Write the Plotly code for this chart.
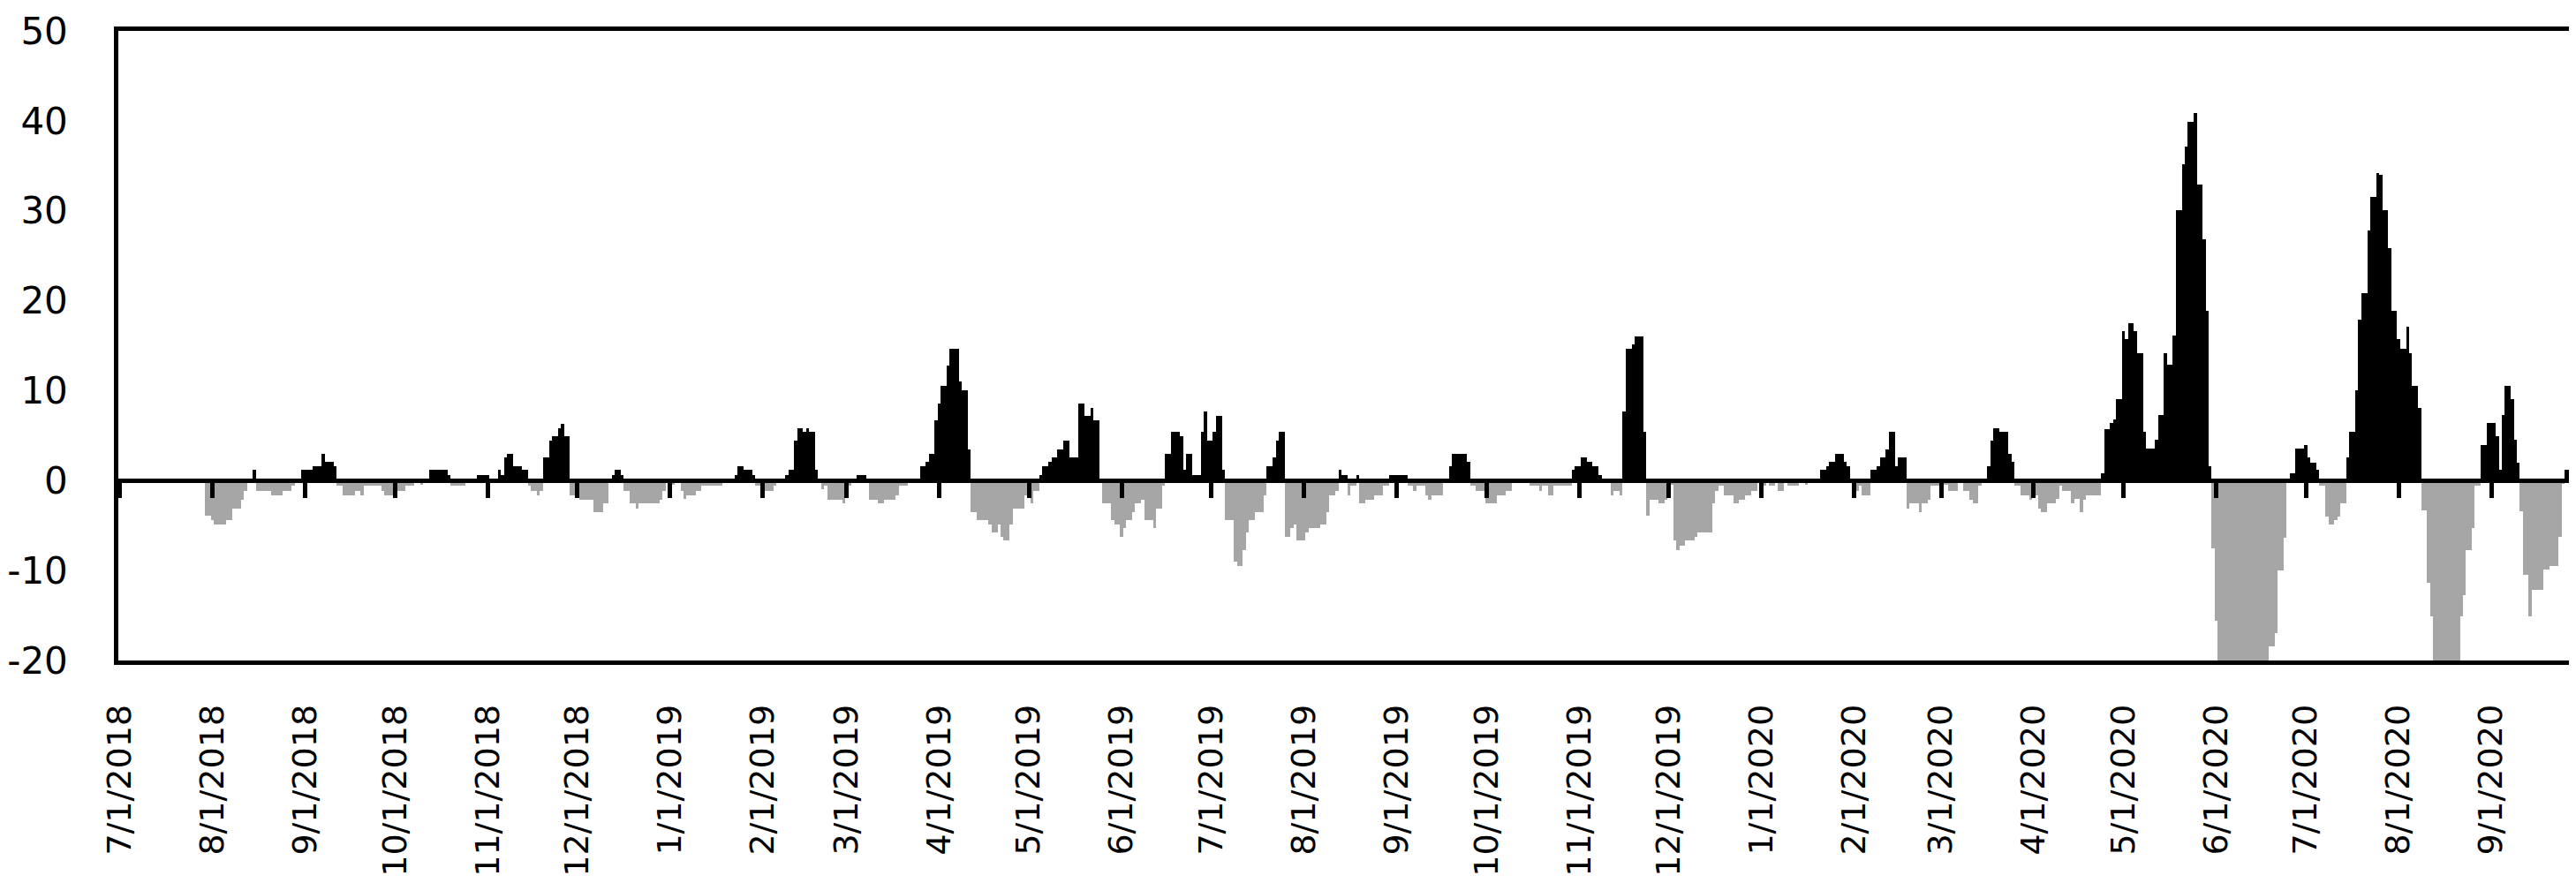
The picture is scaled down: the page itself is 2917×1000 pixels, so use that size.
import pandas as pd
import plotly.graph_objects as go

# daily values, one line per month
values_2018 = [
    0, 0, 0, 0, 0, 0, 0, 0, 0, 0, 0, 0, 0, 0, 0, 0, 0, 0, 0, 0, 0, 0, 0, 0, 0, 0, 0, 0, 0, -3.9, -3.9,  # Jul
    -4.4, -4.9, -4.9, -4.9, -4.9, -4.4, -4.4, -3.1, -3.1, -3.1, -2.1, -1.2, 0, 0, 1.2, -1.2, -1.2, -1.2, -1.2, -1.2, -1.6, -1.6, -1.6, -1.6, -1.2, -1.2, -1.2, -0.6, 0, 0, 1.2,  # Aug
    1.2, 1.2, 1.2, 1.6, 1.6, 1.6, 3.0, 2.1, 2.1, 2.1, 1.6, -0.6, -0.6, -1.6, -1.6, -1.6, -1.6, -1.2, -1.2, -1.6, -0.6, -0.6, -0.6, -0.6, -0.6, -0.6, -1.2, -1.6, -1.6, -1.6,  # Sep
    -1.8, -1.2, -1.2, -1.2, -0.6, -0.6, -0.6, 0, 0, -0.5, 0, 0, 1.2, 1.2, 1.2, 1.2, 1.2, 1.2, 0.6, -0.6, -0.6, -0.6, -0.6, -0.6, 0, 0, 0, 0, 0.6, 0.6, 0.6,  # Oct
    0.6, 0, 0, 0, 1.2, 0.6, 2.6, 3.0, 3.0, 1.6, 1.6, 1.6, 1.2, 1.2, -0.6, -1.2, -1.2, -1.6, -1.2, 2.6, 2.6, 4.4, 4.9, 4.9, 5.8, 6.3, 4.9, 4.9, -1.6, -1.6,  # Nov
    -1.6, -2.1, -2.1, -2.1, -2.1, -2.1, -3.5, -3.5, -3.5, -2.5, -2.5, 0, 0.6, 1.2, 1.2, 0.6, -1.2, -1.2, -2.5, -2.5, -3.1, -2.5, -2.5, -2.5, -2.5, -2.5, -2.5, -2.5, -2.1, -1.2, 0,  # Dec
]

values_2019 = [
    0, -0.5, 0, 0, -1.2, -2.0, -1.6, -1.6, -1.6, -1.2, -1.2, -0.6, -0.6, -0.6, -0.6, -0.6, -0.6, -0.6, 0, 0, 0, 0, 0.6, 1.6, 1.6, 1.2, 1.2, 1.2, 0.6, -0.6, -0.6,  # Jan
    -1.6, -1.2, -1.2, -1.2, -0.6, 0, 0, 0, 0.6, 1.2, 1.2, 4.4, 5.8, 5.8, 5.4, 5.8, 5.4, 5.4, 1.2, 0, -1.0, -0.6, -2.1, -2.1, -2.1, -2.1, -2.1, -2.5,  # Feb
    -0.6, -0.6, 0, 0, 0.6, 0.6, 0.6, 0, -2.1, -2.1, -2.1, -2.5, -2.5, -2.1, -2.1, -2.1, -2.1, -1.6, -0.6, -0.6, -0.6, 0, 0, 0, 0, 1.6, 1.6, 2.1, 3.0, 3.0, 6.7,  # Mar
    8.6, 10.5, 10.5, 12.8, 14.7, 14.7, 14.7, 11.0, 10.0, 10.0, 3.5, -3.5, -3.5, -4.4, -4.4, -4.4, -4.4, -4.9, -5.8, -5.8, -4.9, -6.3, -6.7, -6.7, -4.9, -3.1, -3.1, -3.1, -3.1, -1.6,  # Apr
    -1.6, -2.5, -1.2, -1.2, 0.6, 1.6, 1.6, 2.1, 2.6, 2.6, 3.5, 3.5, 4.4, 4.4, 2.6, 2.6, 2.6, 8.6, 8.6, 7.2, 7.2, 8.1, 6.7, 6.7, -0.3, -2.5, -2.5, -2.5, -4.4, -4.9, -4.9,  # May
    -6.3, -5.3, -4.4, -4.4, -3.5, -2.5, -2.5, -2.1, -4.4, -4.4, -4.4, -5.3, -3.1, -3.1, -0.6, 3.0, 3.0, 5.4, 5.4, 5.4, 4.9, 1.2, 3.0, 3.0, 0.6, 0.6, 0.6, 5.4, 7.7, 4.4,  # Jun
    4.4, 5.4, 7.2, 7.2, 1.2, -4.4, -4.4, -4.4, -9.0, -9.5, -9.5, -7.7, -5.8, -4.4, -4.4, -3.5, -3.5, -3.5, -1.6, 1.6, 1.6, 2.6, 4.4, 5.4, 5.4, -6.3, -6.3, -5.3, -4.9, -6.7, -6.7,  # Jul
    -6.7, -5.8, -5.3, -5.3, -5.3, -5.3, -4.9, -4.9, -3.5, -1.6, -1.6, -1.2, 1.2, 0.6, 0.6, -1.6, -0.6, -0.6, 0.6, -2.5, -2.5, -2.1, -2.1, -2.1, -1.6, -1.6, -1.6, -0.6, -0.6, 0.6, 0.6,  # Aug
    0.6, 0.6, 0.6, 0.6, -0.6, -0.6, -1.2, -0.6, -0.6, -0.6, -1.6, -2.1, -1.6, -1.6, -1.6, -1.6, 0, 0, 1.6, 3.0, 3.0, 3.0, 3.0, 3.0, 2.1, -0.6, -0.6, -1.2, -1.2, -1.2,  # Sep
    -2.5, -2.5, -2.5, -2.5, -1.6, -1.6, -1.6, -1.2, -1.2, 0, 0, 0, 0, 0, 0, -0.6, -0.6, -0.6, -1.2, -0.6, -0.6, -1.6, -1.6, -0.6, -0.6, -0.6, -0.6, -0.6, -0.6, 1.2, 1.6,  # Oct
    1.6, 2.6, 2.6, 2.1, 2.1, 1.6, 1.6, 0.6, -0.3, -0.3, -0.3, -1.6, -1.2, -1.2, -1.6, 7.7, 14.7, 14.7, 15.1, 16.0, 16.0, 16.0, 5.4, -3.9, -2.1, -2.1, -2.1, -2.5, -2.5, -2.1,  # Nov
    0, -0.5, -6.7, -7.7, -7.2, -7.2, -6.7, -6.7, -6.7, -6.3, -5.8, -5.8, -5.8, -5.8, -5.8, -2.5, -1.2, -0.6, -0.6, -1.6, -1.6, -1.6, -2.5, -2.5, -2.1, -2.1, -1.6, -1.6, -1.2, -1.2, 0,  # Dec
]

values_2020 = [
    -0.6, -0.6, 0, -0.6, -0.6, 0, -1.2, -1.2, 0, -0.6, -0.6, -0.6, -0.6, 0, 0, -0.5, 0, 0, 0, 0, 1.2, 1.2, 1.6, 2.1, 2.1, 3.0, 3.0, 3.0, 2.1, 1.6, 0,  # Jan
    -1.2, -1.2, -0.6, -1.6, -1.6, -1.6, 1.2, 1.2, 1.6, 2.6, 2.6, 3.5, 5.4, 5.4, 1.6, 2.6, 2.6, 2.6, -3.1, -2.5, -2.5, -2.5, -3.5, -2.5, -2.5, -2.1, -0.6, -0.6, -0.6,  # Feb
    0, -0.5, -0.5, -1.2, -1.2, -1.2, 0, 0, -1.2, -1.2, -2.1, -2.5, -2.5, -0.6, 0, 0, 1.6, 4.4, 5.8, 5.8, 5.4, 5.4, 5.4, 3.0, 2.1, -0.6, -0.6, -1.6, -1.6, -1.6, -2.1,  # Mar
    -1.6, -1.6, -3.1, -3.5, -3.5, -2.5, -2.5, -2.5, -2.0, -0.6, -1.2, -1.2, -1.2, -2.5, -2.0, -2.0, -3.5, -2.1, -1.6, -1.6, -1.6, -1.6, -1.6, 0.8, 5.7, 5.7, 6.4, 6.8, 9.1, 9.1,  # Apr
    16.6, 15.7, 17.5, 17.5, 16.6, 14.2, 14.2, 5.4, 3.6, 3.6, 3.6, 4.5, 7.3, 7.3, 14.2, 12.9, 12.9, 16.1, 30.1, 30.1, 35.2, 37.1, 39.9, 39.9, 40.9, 32.9, 32.9, 26.8, 18.9, 1.6, -7.5,  # May
    -15.6, -21, -22, -24, -25, -26, -27, -27, -28, -28, -27, -26, -25, -24, -23, -22, -21, -21, -18.4, -18.4, -17.0, -10.0, -10.0, -6.4, 0, 0.8, 0.8, 3.6, 3.6, 3.6,  # Jun
    4.0, 2.6, 2.0, 2.0, 1.2, -0.6, -0.6, -4.0, -4.9, -4.9, -4.4, -4.0, -2.5, -2.5, 2.6, 5.4, 5.4, 10.0, 17.9, 20.8, 20.8, 27.8, 31.5, 31.5, 34.2, 34.0, 30.1, 30.1, 25.9, 18.9, 18.9,  # Jul
    15.7, 14.7, 14.7, 17.1, 14.2, 10.5, 10.5, 8.1, -3.3, -3.3, -11.4, -15.1, -21, -23, -24, -25, -25, -24, -23, -22, -21, -15.1, -12.7, -7.7, -7.7, -5.3, -0.6, -0.6, 4.0, 4.0, 6.4,  # Aug
    6.4, 6.4, 4.9, 1.2, 7.3, 10.5, 10.5, 9.1, 4.5, 2.0, -3.4, -10.5, -10.5, -15.1, -12.2, -12.2, -12.2, -12.2, -9.9, -9.9, -9.5, -9.5, -9.5, -6.3, -0.4, 1.2, 1.2, 2.6, 0.8, 0.8,  # Sep
]

values = values_2018 + values_2019 + values_2020
dates = pd.date_range("2018-07-01", "2020-09-30", freq="D")
assert len(dates) == len(values)

month_starts = pd.date_range("2018-07-01", "2020-09-01", freq="MS")
month_labels = [f"{d.month}/{d.day}/{d.year}" for d in month_starts]
y_ticks = [-20, -10, 0, 10, 20, 30, 40, 50]
y_labels = [str(v) for v in y_ticks]   # plain hyphen, like the original

x_range = [dates[0] - pd.Timedelta(hours=12), dates[-1] + pd.Timedelta(hours=12)]
y_min, y_max = -20, 50
y_range = [y_min - 0.01, y_max + 0.01]   # tiny pad so the end labels are kept

bar_colors = ["#000000" if v >= 0 else "#A6A6A6" for v in values]

fig = go.Figure()
fig.add_trace(go.Bar(
    x=dates, y=values,
    marker=dict(color=bar_colors, line=dict(width=0)),
    showlegend=False,
))
# helper trace so the zero-line axis (ticks at 0) gets drawn
fig.add_trace(go.Scatter(
    x=[dates[0], dates[-1]], y=[0, 0], xaxis="x2",
    mode="lines", line=dict(width=0), hoverinfo="skip", showlegend=False,
))

clear = "rgba(0,0,0,0)"
fig.update_layout(
    width=2917, height=1000, autosize=False,
    margin=dict(l=126, r=4, t=27, b=260),
    plot_bgcolor="white", paper_bgcolor="white",
    bargap=0,
    font=dict(family="DejaVu Sans", color="black"),
    xaxis=dict(
        type="date", range=x_range, automargin=False,
        tickvals=month_starts, ticktext=month_labels,
        tickangle=-90, tickfont=dict(size=38), ticklabeloverflow="allow",
        ticks="outside", ticklen=30, tickcolor=clear,
        showline=True, mirror=True, linecolor="black", linewidth=4.5,
        showgrid=False, zeroline=False,
    ),
    xaxis2=dict(
        type="date", range=x_range, overlaying="x", anchor="free",
        automargin=False,
        position=(0 - y_range[0]) / (y_range[1] - y_range[0]),
        tickvals=month_starts, showticklabels=False,
        ticks="outside", ticklen=17, tickwidth=4.5, tickcolor="black",
        showline=True, linecolor="black", linewidth=5,
        showgrid=False, zeroline=False,
    ),
    yaxis=dict(
        range=y_range, tickvals=y_ticks, ticktext=y_labels, automargin=False,
        tickfont=dict(size=42), ticklabeloverflow="allow",
        ticks="outside", ticklen=44, tickcolor=clear,
        showline=True, mirror=True, linecolor="black", linewidth=4.5,
        showgrid=False, zeroline=False,
    ),
)

fig.write_html("out.html")
